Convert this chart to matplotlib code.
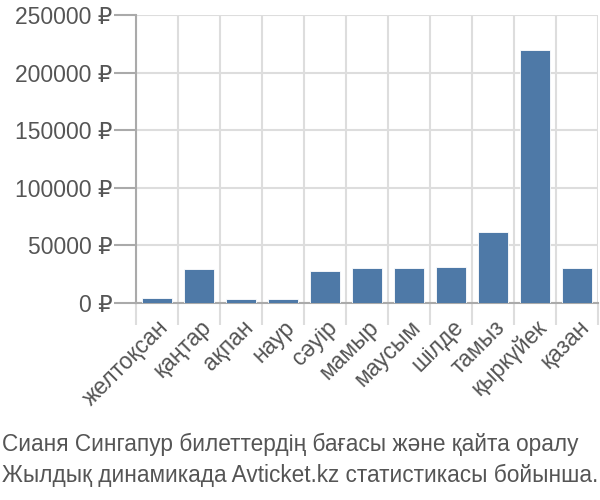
import matplotlib.pyplot as plt
import numpy as np

# --- Data ---
months = ['желтоқсан', 'қаңтар', 'ақпан', 'наур', 'сәуір', 'мамыр',
          'маусым', 'шілде', 'тамыз', 'қыркүйек', 'қазан']
prices = [4000, 29500, 3700, 3700, 28000, 30200, 30200, 31300, 61500, 219800, 30200]
y_ticks = [0, 50000, 100000, 150000, 200000, 250000]
caption = ('Сианя Сингапур билеттердің бағасы және қайта оралу\n'
           'Жылдық динамикада Avticket.kz статистикасы бойынша.')

plt.rcParams['font.family'] = ['Liberation Sans', 'DejaVu Sans']

fig = plt.figure(figsize=(6, 5), dpi=100)
ax = fig.add_axes([0.227, 0.394, 0.77, 0.576])

x = np.arange(len(months))
ax.bar(x, prices, width=0.72, color='#4e79a7', edgecolor='white', linewidth=0.6, zorder=3)

ax.set_xlim(-0.5, len(months) - 0.5)
ax.set_ylim(0, 250000)
ax.set_yticks(y_ticks)
ax.set_yticklabels([f'{v} ₽' for v in y_ticks])

# gridlines at category boundaries
ax.set_xticks(np.arange(len(months) + 1) - 0.5)
ax.set_xticklabels([])
ax.set_xticks(x, minor=True)
ax.set_xticklabels(months, minor=True, rotation=45, ha='right', rotation_mode='anchor')
ax.tick_params(axis='x', which='minor', length=0, pad=9, labelsize=16.5, labelcolor='#555555')
ax.tick_params(axis='x', which='major', length=16, color='#dddddd', width=1.5)
ax.tick_params(axis='y', length=16, color='#aaaaaa', width=1.5, labelsize=16.5, labelcolor='#555555', pad=1)

ax.grid(True, which='major', color='#dddddd', linewidth=1.5, zorder=0)
for s in ['top', 'right']:
    ax.spines[s].set_visible(False)
ax.spines['left'].set_color('#aaaaaa')
ax.spines['left'].set_linewidth(1.5)
ax.spines['bottom'].set_color('#aaaaaa')
ax.spines['bottom'].set_linewidth(1.5)

fig.text(0.003, 0.08, caption, ha='left', va='center', fontsize=16.3,
         color='#555555', linespacing=1.4)

fig.savefig('out.png', dpi=100)
